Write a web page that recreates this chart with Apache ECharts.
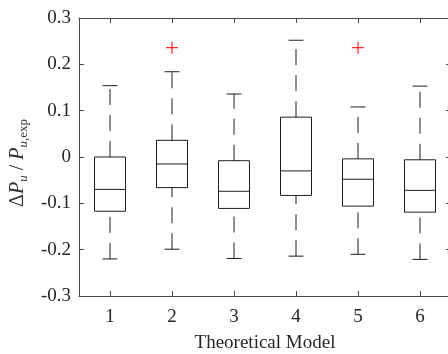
<!DOCTYPE html>
<html><head><meta charset="utf-8">
<script src="https://cdn.jsdelivr.net/npm/echarts@6/dist/echarts.min.js"></script>
<style>html,body{margin:0;padding:0;background:#fff}#c{width:448px;height:354px}</style>
</head><body><div id="c"></div>
<script>
// ---- data ----
const categories = ['1', '2', '3', '4', '5', '6'];
const lowerWhisker = [-0.220, -0.199, -0.219, -0.214, -0.210, -0.221];
const q1           = [-0.117, -0.066, -0.111, -0.083, -0.106, -0.119];
const median       = [-0.070, -0.015, -0.074, -0.030, -0.048, -0.072];
const q3           = [ 0.000,  0.036, -0.008,  0.086, -0.004, -0.006];
const upperWhisker = [ 0.154,  0.184,  0.136,  0.252,  0.108,  0.153];
const outlierCat   = [1, 4];          // category index
const outlierVal   = [0.236, 0.236];
const yMin = -0.3, yMax = 0.3, yStep = 0.1;

const FONT = '"Liberation Serif", "Times New Roman", serif';
const AXIS_COLOR = '#4a4a4a';
const BOX_COLOR = '#1e1e1e';
const TXT = '#262626';

const boxData = categories.map((c, i) => [i, lowerWhisker[i], q1[i], median[i], q3[i], upperWhisker[i]]);
const outData = outlierCat.map((c, i) => [c, outlierVal[i]]);

function renderBox(params, api) {
  const i = api.value(0);
  const band = api.size([1, 0])[0];
  const hw = band * 0.25, cw = band * 0.12;
  const pLo = api.coord([i, api.value(1)]);
  const pQ1 = api.coord([i, api.value(2)]);
  const pMd = api.coord([i, api.value(3)]);
  const pQ3 = api.coord([i, api.value(4)]);
  const pHi = api.coord([i, api.value(5)]);
  const x = pMd[0];
  const solid = {stroke: BOX_COLOR, lineWidth: 1, fill: null};
  const dashed = {stroke: BOX_COLOR, lineWidth: 1, lineDash: [16, 10], fill: null};
  return {
    type: 'group',
    children: [
      {type: 'line', shape: {x1: x, y1: pQ3[1], x2: x, y2: pHi[1]}, style: dashed},
      {type: 'line', shape: {x1: x, y1: pLo[1], x2: x, y2: pQ1[1]}, style: dashed},
      {type: 'line', shape: {x1: x - cw, y1: pHi[1], x2: x + cw, y2: pHi[1]}, style: solid},
      {type: 'line', shape: {x1: x - cw, y1: pLo[1], x2: x + cw, y2: pLo[1]}, style: solid},
      {type: 'rect', shape: {x: x - hw, y: pQ3[1], width: 2 * hw, height: pQ1[1] - pQ3[1]}, style: solid},
      {type: 'line', shape: {x1: x - hw, y1: pMd[1], x2: x + hw, y2: pMd[1]}, style: solid}
    ]
  };
}

function renderOutlier(params, api) {
  const p = api.coord([api.value(0), api.value(1)]);
  const s = 6;
  const st = {stroke: '#ff2020', lineWidth: 1.2};
  return {
    type: 'group',
    children: [
      {type: 'line', shape: {x1: p[0] - s, y1: p[1], x2: p[0] + s, y2: p[1]}, style: st},
      {type: 'line', shape: {x1: p[0], y1: p[1] - s, x2: p[0], y2: p[1] + s}, style: st}
    ]
  };
}

const axisLine = {show: true, onZero: false, lineStyle: {color: AXIS_COLOR, width: 1}};
const tick = {show: true, inside: true, length: 5, lineStyle: {color: AXIS_COLOR}};
const richBase = {fontFamily: FONT, color: '#333', fontWeight: 'normal', textBorderWidth: 0};

const chart = echarts.init(document.getElementById('c'));
chart.setOption({
  backgroundColor: '#fff',
  animation: false,
  grid: {left: 79, top: 18, right: -3, bottom: 58, containLabel: false, outerBoundsMode: 'none'},
  xAxis: [
    {
      type: 'category', data: categories, position: 'bottom',
      axisLine: axisLine, axisTick: Object.assign({alignWithLabel: true}, tick),
      axisLabel: {color: TXT, fontFamily: FONT, fontSize: 19, margin: 12},
      splitLine: {show: false},
      name: 'Theoretical Model', nameLocation: 'middle', nameGap: 38,
      nameTextStyle: {color: TXT, fontFamily: FONT, fontSize: 19, fontWeight: 'normal'}
    },
    {
      type: 'category', data: categories, position: 'top',
      axisLine: axisLine, axisTick: Object.assign({alignWithLabel: true}, tick),
      axisLabel: {show: false}, splitLine: {show: false}
    }
  ],
  yAxis: [
    {
      type: 'value', min: yMin, max: yMax, interval: yStep, position: 'left',
      axisLine: axisLine, axisTick: tick, splitLine: {show: false},
      axisLabel: {color: TXT, fontFamily: FONT, fontSize: 19, margin: 8,
        formatter: v => String(Math.round(v * 10) / 10)},
      name: '{d|Δ}{p|P}{s|u}{n| / }{p|P}{s|u}{t|,exp}',
      nameLocation: 'middle', nameRotate: 90, nameGap: 34,
      nameTextStyle: {
        color: '#333', fontFamily: FONT, fontSize: 20, fontWeight: 'normal', textBorderWidth: 0,
        padding: [0, 12, 0, 0],
        rich: {
          d: Object.assign({fontSize: 20}, richBase),
          p: Object.assign({fontSize: 20, fontStyle: 'italic'}, richBase),
          n: Object.assign({fontSize: 20}, richBase),
          s: Object.assign({fontSize: 13, fontStyle: 'italic', padding: [12, 0, 0, 0]}, richBase),
          t: Object.assign({fontSize: 13, padding: [12, 0, 0, 0]}, richBase)
        }
      }
    },
    {
      type: 'value', min: yMin, max: yMax, interval: yStep, position: 'right',
      axisLine: axisLine, axisTick: tick, splitLine: {show: false},
      axisLabel: {show: false}
    }
  ],
  series: [
    {type: 'custom', xAxisIndex: 0, yAxisIndex: 0, data: boxData, renderItem: renderBox,
      encode: {x: 0, y: [1, 2, 3, 4, 5]}, z: 3},
    {type: 'custom', xAxisIndex: 0, yAxisIndex: 0, data: outData, renderItem: renderOutlier,
      encode: {x: 0, y: 1}, z: 4}
  ]
});
</script>
</body></html>
